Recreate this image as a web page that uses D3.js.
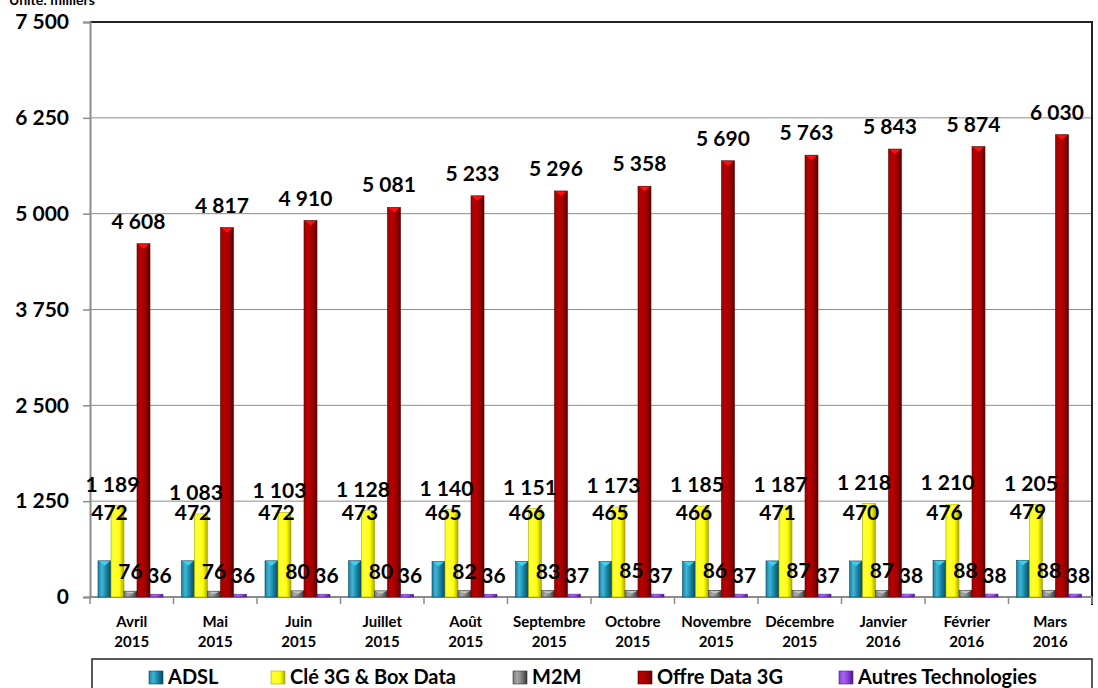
<!DOCTYPE html>
<html><head><meta charset="utf-8">
<script src="https://cdn.jsdelivr.net/npm/d3@7"></script>
<style>body{margin:0;background:#fff}svg{display:block}</style>
</head><body>
<svg id="c" width="1098" height="688"></svg>
<script>
const months = ["Avril","Mai","Juin","Juillet","Août","Septembre","Octobre","Novembre","Décembre","Janvier","Février","Mars"];
const years = ["2015","2015","2015","2015","2015","2015","2015","2015","2015","2016","2016","2016"];
const seriesNames = ["ADSL","Clé 3G & Box Data","M2M","Offre Data 3G","Autres Technologies"];
const adsl = [472,472,472,473,465,466,465,466,471,470,476,479];
const cle = [1189,1083,1103,1128,1140,1151,1173,1185,1187,1218,1210,1205];
const m2m = [76,76,80,80,82,83,85,86,87,87,88,88];
const offre = [4608,4817,4910,5081,5233,5296,5358,5690,5763,5843,5874,6030];
const autres = [36,36,36,36,36,37,37,37,37,38,38,38];
const yTicks = [0,1250,2500,3750,5000,6250,7500];

const series = [adsl, cle, m2m, offre, autres];
const colors = [
  {dark:"#0a4a60", mid:"#17809f", light:"#3fb6d6", cap:"#3fd0f0"},
  {dark:"#a8a800", mid:"#ffff00", light:"#ffff40", cap:"#ffff30"},
  {dark:"#333333", mid:"#7a7a7a", light:"#a8a8a8", cap:"#c4c4c4"},
  {dark:"#5a0000", mid:"#a00000", light:"#b80000", cap:"#ff1010"},
  {dark:"#4a1a88", mid:"#8a3ed6", light:"#a866f0", cap:"#b878ff"}
];
const fmt = v => d3.format(",")(v).replace(/,/g, " ");
const svg = d3.select("#c");
const font = "Lato, 'Open Sans', sans-serif";

const L = 90, R = 1092, T = 22, B = 597;
const x = d3.scaleBand().domain(d3.range(12)).range([L, R]).padding(0);
const xi = d3.scaleBand().domain(d3.range(5)).range([8, 73]).padding(0);
const y = d3.scaleLinear().domain([0, 7500]).range([B, T]);

// gradients
const defs = svg.append("defs");
colors.forEach((c, i) => {
  const g = defs.append("linearGradient").attr("id", "g" + i).attr("x1", 0).attr("x2", 1).attr("y1", 0).attr("y2", 0);
  g.append("stop").attr("offset", "0%").attr("stop-color", c.mid);
  g.append("stop").attr("offset", "30%").attr("stop-color", c.light);
  g.append("stop").attr("offset", "65%").attr("stop-color", c.mid);
  g.append("stop").attr("offset", "100%").attr("stop-color", c.dark);
});

// unit label
svg.append("text").attr("x", 9).attr("y", 5).attr("font-family", font).attr("font-weight", 700)
  .attr("font-size", 14).text("Unité: milliers");

// gridlines
svg.append("g").selectAll("line").data(yTicks.filter(t => t > 0)).join("line")
  .attr("x1", L).attr("x2", R).attr("y1", d => y(d)).attr("y2", d => y(d))
  .attr("stroke", "#8c8c8c").attr("stroke-width", 1);

// top and right border
svg.append("line").attr("x1", L).attr("x2", R + 1).attr("y1", T).attr("y2", T).attr("stroke", "#222").attr("stroke-width", 2);
svg.append("line").attr("x1", R).attr("x2", R).attr("y1", T).attr("y2", 605).attr("stroke", "#222").attr("stroke-width", 2);

// y axis
const ya = svg.append("g").attr("transform", `translate(${L},0)`)
  .call(d3.axisLeft(y).tickValues(yTicks).tickFormat(fmt).tickSize(7).tickPadding(14));
ya.select(".domain").attr("stroke", "#8c8c8c").attr("stroke-width", 2);
ya.selectAll(".tick line").attr("stroke", "#8c8c8c").attr("stroke-width", 1.5);
ya.selectAll("text").attr("font-family", font).attr("font-weight", 700).attr("font-size", 21).attr("fill", "#000");

// x axis line + ticks at boundaries
svg.append("line").attr("x1", L).attr("x2", R).attr("y1", B).attr("y2", B).attr("stroke", "#8c8c8c").attr("stroke-width", 2);
svg.append("g").selectAll("line").data(d3.range(13)).join("line")
  .attr("x1", d => L + d * x.bandwidth()).attr("x2", d => L + d * x.bandwidth())
  .attr("y1", B).attr("y2", B + 7).attr("stroke", "#8c8c8c").attr("stroke-width", 1.5);

// bars
const barG = svg.append("g");
const labOff = [41, 14, 12, 15, 11];
const labDx = [5, -5, 0, -5, 3];
series.forEach((vals, s) => {
  const g = barG.append("g");
  g.selectAll("rect").data(vals).join("rect")
    .attr("x", (d, i) => x(i) + xi(s))
    .attr("width", xi.bandwidth())
    .attr("y", d => y(d))
    .attr("height", d => B - y(d))
    .attr("fill", `url(#g${s})`)
    .attr("stroke", colors[s].dark).attr("stroke-width", 0.6);
  g.selectAll("path").data(vals).join("path")
    .attr("d", (d, i) => {
      const x0 = x(i) + xi(s), w = xi.bandwidth(), yt = y(d);
      return `M${x0 + 1},${yt + 0.5} L${x0 + w - 1},${yt + 0.5} L${x0 + w / 2},${yt + Math.min(5, (B - yt) / 2)} Z`;
    })
    .attr("fill", colors[s].cap);
});

// labels
const labG = svg.append("g").attr("font-family", font).attr("font-weight", 700).attr("font-size", 21).attr("text-anchor", "middle");
series.forEach((vals, s) => {
  labG.append("g").selectAll("text").data(vals).join("text")
    .attr("x", (d, i) => x(i) + xi(s) + xi.bandwidth() / 2 + labDx[s])
    .attr("y", d => y(d) - labOff[s])
    .text(d => fmt(d));
});

// x labels
const xl = svg.append("g").attr("font-family", font).attr("font-weight", 700).attr("font-size", 15).attr("text-anchor", "middle");
months.forEach((m, i) => {
  const cx = x(i) + x.bandwidth() / 2;
  const t = xl.append("text").attr("x", cx).attr("y", 627);
  t.append("tspan").attr("x", cx).text(m);
  t.append("tspan").attr("x", cx).attr("dy", 20).text(years[i]);
});

// legend
svg.append("rect").attr("x", 92).attr("y", 659).attr("width", 1000).attr("height", 40)
  .attr("fill", "#fff").attr("stroke", "#222").attr("stroke-width", 1.5);
const legX = [149, 271, 513, 638, 839];
const lg = svg.append("g").attr("font-family", font).attr("font-weight", 700).attr("font-size", 20);
seriesNames.forEach((n, s) => {
  lg.append("rect").attr("x", legX[s]).attr("y", 671).attr("width", 14).attr("height", 13)
    .attr("fill", `url(#g${s})`).attr("stroke", colors[s].dark).attr("stroke-width", 0.6);
  lg.append("text").attr("x", legX[s] + 19).attr("y", 684).text(n);
});
</script>
</body></html>
